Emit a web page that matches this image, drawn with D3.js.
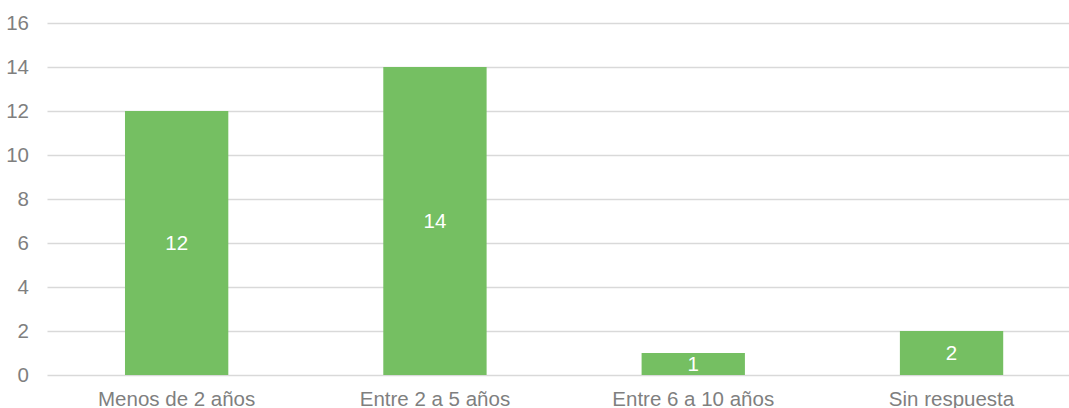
<!DOCTYPE html>
<html>
<head>
<meta charset="utf-8">
<script src="https://cdn.jsdelivr.net/npm/d3@7"></script>
<style>
  body { margin: 0; background: #fff; }
  svg text { font-family: "Liberation Sans", Arial, sans-serif; }
</style>
</head>
<body>
<svg id="svg" width="1069" height="408"></svg>
<script>
// data
const categories = ["Menos de 2 años", "Entre 2 a 5 años", "Entre 6 a 10 años", "Sin respuesta"]
const counts = [12, 14, 1, 2]
const yTicks = [0, 2, 4, 6, 8, 10, 12, 14, 16]

var svg = d3.select("svg"), width = +svg.attr("width"), height = +svg.attr("height")
// plot edges (window.top is taken, so named differently)
var plotLeft = 47.5, plotRight = 1080.7, plotTop = 23, plotBottom = 375

var x = d3.scaleBand()
    .domain(categories)
    .range([plotLeft, plotRight])
    .paddingInner(0.6)
    .paddingOuter(0.3)

var y = d3.scaleLinear()
    .domain([0, 16])
    .range([plotBottom, plotTop])

// gridlines + y labels
var yAxis = svg.append("g")
    .attr("transform", "translate(" + plotLeft + ",0)")
    .call(d3.axisLeft(y).tickValues(yTicks).tickSize(-(width - plotLeft + 5)).tickPadding(18.5))
yAxis.select(".domain").remove()
yAxis.selectAll("line").attr("stroke", "#D9D9D9").attr("stroke-width", 1.4)
yAxis.selectAll("text")
    .attr("fill", "#7F7F7F")
    .style("font-size", "20.5px")

// bars
svg.append("g").selectAll("rect")
    .data(counts)
    .enter().append("rect")
    .attr("x", function (d, i) { return x(categories[i]) })
    .attr("width", x.bandwidth())
    .attr("y", function (d) { return y(d) })
    .attr("height", function (d) { return y(0) - y(d) })
    .attr("fill", "#75BF62")

// value labels in the middle of each bar
svg.append("g").selectAll("text")
    .data(counts)
    .enter().append("text")
    .attr("x", function (d, i) { return x(categories[i]) + x.bandwidth() / 2 })
    .attr("y", function (d) { return (y(d) + y(0)) / 2 })
    .attr("dy", "0.36em")
    .attr("text-anchor", "middle")
    .attr("fill", "#fff")
    .style("font-size", "20.5px")
    .text(function (d) { return d })

// category labels
svg.append("g").selectAll("text")
    .data(categories)
    .enter().append("text")
    .attr("x", function (d) { return x(d) + x.bandwidth() / 2 })
    .attr("y", 406)
    .attr("text-anchor", "middle")
    .attr("fill", "#7F7F7F")
    .style("font-size", "20.5px")
    .text(function (d) { return d })
</script>
</body>
</html>
